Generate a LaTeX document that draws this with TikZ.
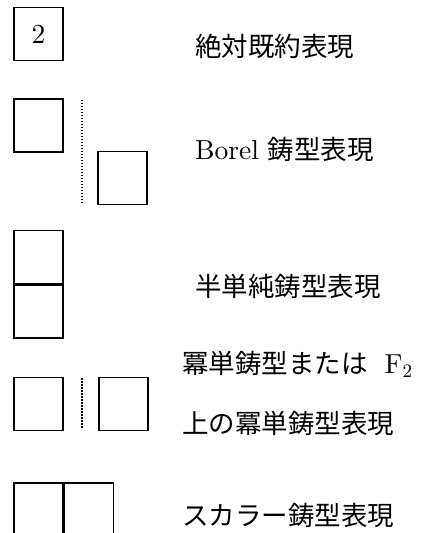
\documentclass[tikz,border=0pt]{standalone}
\usepackage{fontspec}
\setmainfont{lmroman10-regular}[Extension=.otf]
\newfontfamily\cjk{Noto Sans CJK JP}
\begin{document}
\begin{tikzpicture}[x=1bp,y=-1bp,
  cell/.style={draw,line width=1.4bp,minimum width=49bp,minimum height=53bp,inner sep=0pt,font=\fontsize{27.5bp}{30bp}\selectfont},
  dotline/.style={line width=1.6bp,dash pattern=on 1.5bp off 1.5bp},
  lbl/.style={anchor=base west,inner sep=0pt,font=\fontsize{26.5bp}{30bp}\selectfont},
  latin/.style={font=\fontsize{27.5bp}{30bp}\selectfont}]
\useasboundingbox (0,0) rectangle (423,533);
% row 1
\node[cell] (b1) at (38.5,34) {2};
\node[lbl] (t1) at (195,57) {\cjk 絶対既約表現};
% row 2
\node[cell] (b2a) at (38.5,125.5) {};
\node[cell] (b2b) at (122.5,178) {};
\coordinate (d2s) at (82,100);
\coordinate (d2e) at (82,203);
\draw[dotline] (d2s) -- (d2e);
\node[lbl] (t2) at (195,160) {{\fontsize{27.5bp}{30bp}\selectfont Borel} {\cjk 鋳型表現}};
% row 3
\node[cell] (b3a) at (38.5,257) {};
\node[cell,anchor=north] (b3b) at (b3a.south) {};
\node[lbl] (t3) at (195,296) {\cjk 半単純鋳型表現};
% row 4
\node[cell] (b4a) at (38.5,404) {};
\node[cell] (b4b) at (123.5,404) {};
\coordinate (d4s) at (82,378);
\coordinate (d4e) at (82,429);
\draw[dotline] (d4s) -- (d4e);
\node[lbl] (t4a) at (182,373) {{\cjk 冪単鋳型または}\hspace{17bp}{\fontsize{27.5bp}{30bp}\selectfont F\raisebox{-0.15em}{\fontsize{19bp}{20bp}\selectfont 2}}};
\node[lbl] (t4b) at (182,433) {\cjk 上の冪単鋳型表現};
% row 5
\node[cell] (b5a) at (38.5,509.5) {};
\node[cell,anchor=west] (b5b) at (b5a.east) {};
\node[lbl] (t5) at (182,525) {\cjk スカラー鋳型表現};
\end{tikzpicture}
\end{document}
